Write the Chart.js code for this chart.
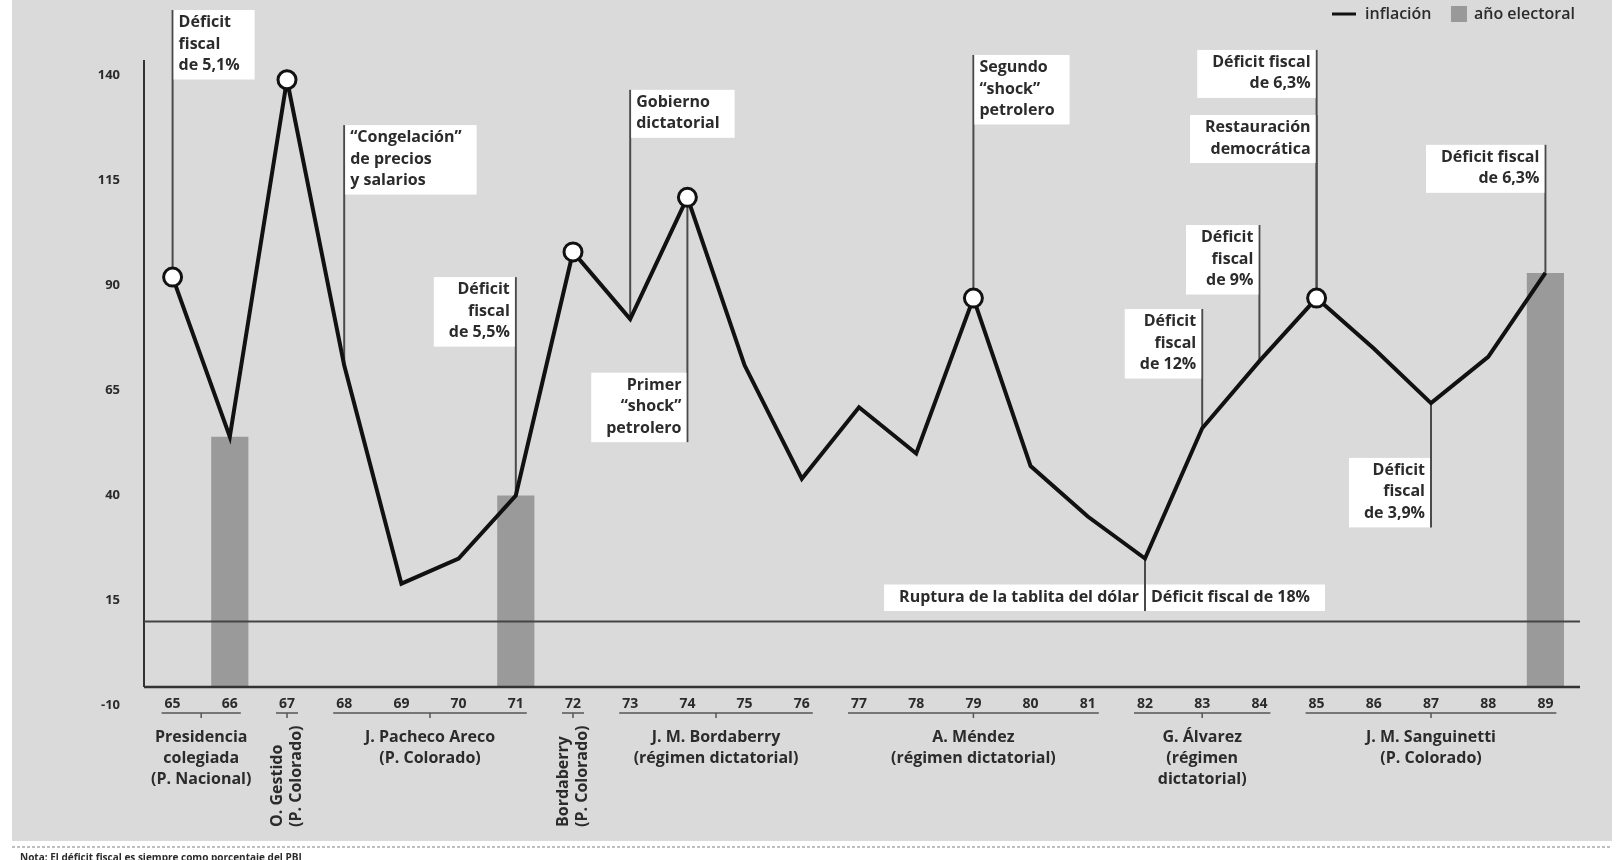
<!DOCTYPE html>
<html lang="es">
<head>
<meta charset="utf-8">
<title>Inflación y años electorales, Uruguay 1965-1989</title>
<script src="https://cdn.jsdelivr.net/npm/chart.js@4.4.1/dist/chart.umd.min.js"></script>
<style>
    html, body { margin: 0; padding: 0; background: #fff; }
    #wrap { width: 1624px; height: 860px; }
</style>
</head>
<body>
<div id="wrap"><canvas id="grafico" width="1624" height="860"></canvas></div>
<script>
"use strict";

// años del eje x
const years = ['65', '66', '67', '68', '69', '70', '71', '72', '73', '74', '75', '76', '77',
    '78', '79', '80', '81', '82', '83', '84', '85', '86', '87', '88', '89'];

// inflación anual (%)
const inflation = [92, 54, 139, 71, 19, 25, 40, 98, 82, 111, 71, 44, 61,
    50, 87, 47, 35, 25, 56, 72, 87, 75, 62, 73, 93];

// años electorales (barras grises)
const electoral = [null, 54, null, null, null, null, 40, null, null, null, null, null, null,
    null, null, null, null, null, null, null, null, null, null, null, 93];

// años marcados con círculo
const highlighted = ['65', '67', '72', '74', '79', '85'];

// marcas del eje y
const yTicks = [-10, 15, 40, 65, 90, 115, 140];
const referenceLine = 10;

const yMin = -5.6;
const yMax = 143.7;

// notas: año al que apuntan, texto, lado de la caja y su borde (en unidades del eje y)
const notes = [
    { year: '65', lines: ['Déficit', 'fiscal', 'de 5,1%'], side: 'right', top: 155.6 },
    { year: '68', lines: ['\u201cCongelación\u201d', 'de precios', 'y salarios'], side: 'right', top: 128.2 },
    { year: '71', lines: ['Déficit', 'fiscal', 'de 5,5%'], side: 'left', top: 92.0 },
    { year: '73', lines: ['Gobierno', 'dictatorial'], side: 'right', top: 136.6 },
    { year: '74', lines: ['Primer', '\u201cshock\u201d', 'petrolero'], side: 'left', bottom: 52.7 },
    { year: '79', lines: ['Segundo', '\u201cshock\u201d', 'petrolero'], side: 'right', top: 144.9 },
    { year: '82', lines: ['Ruptura de la tablita del dólar'], side: 'left', bottom: 12.5 },
    { year: '82', lines: ['Déficit fiscal de 18%'], side: 'right', bottom: 12.5 },
    { year: '83', lines: ['Déficit', 'fiscal', 'de 12%'], side: 'left', top: 84.4 },
    { year: '84', lines: ['Déficit', 'fiscal', 'de 9%'], side: 'left', top: 104.4 },
    { year: '85', lines: ['Déficit fiscal', 'de 6,3%'], side: 'left', top: 146.1 },
    { year: '85', lines: ['Restauración', 'democrática'], side: 'left', top: 130.6 },
    { year: '87', lines: ['Déficit', 'fiscal', 'de 3,9%'], side: 'left', bottom: 32.4 },
    { year: '89', lines: ['Déficit fiscal', 'de 6,3%'], side: 'left', top: 123.5 }
];

// gobiernos bajo el eje x
const groups = [
    { from: '65', to: '66', lines: ['Presidencia', 'colegiada', '(P. Nacional)'] },
    { from: '67', to: '67', lines: ['O. Gestido', '(P. Colorado)'], vertical: true },
    { from: '68', to: '71', lines: ['J. Pacheco Areco', '(P. Colorado)'] },
    { from: '72', to: '72', lines: ['Bordaberry', '(P. Colorado)'], vertical: true },
    { from: '73', to: '76', lines: ['J. M. Bordaberry', '(régimen dictatorial)'] },
    { from: '77', to: '81', lines: ['A. Méndez', '(régimen dictatorial)'] },
    { from: '82', to: '84', lines: ['G. Álvarez', '(régimen', 'dictatorial)'] },
    { from: '85', to: '89', lines: ['J. M. Sanguinetti', '(P. Colorado)'] }
];

const FONT = "'Open Sans', sans-serif";
const TEXT = '#2b2b2b';

// fondo gris, línea punteada y nota al pie
const panelPlugin = {
    id: 'panel',
    beforeDraw(chart) {
        const ctx = chart.ctx;
        ctx.save();
        ctx.fillStyle = '#fff';
        ctx.fillRect(0, 0, chart.width, chart.height);
        ctx.fillStyle = '#dadada';
        ctx.fillRect(12, 0, 1600, 841);
        ctx.strokeStyle = '#aaa';
        ctx.lineWidth = 1.5;
        ctx.setLineDash([3, 2]);
        ctx.beginPath();
        ctx.moveTo(12, 847);
        ctx.lineTo(1612, 847);
        ctx.stroke();
        ctx.setLineDash([]);
        ctx.fillStyle = TEXT;
        ctx.font = 'bold 10px ' + FONT;
        ctx.textBaseline = 'middle';
        ctx.fillText('Nota: El déficit fiscal es siempre como porcentaje del PBI', 20, 858);
        ctx.restore();
    }
};

// cajas blancas con sus líneas guía
const notesPlugin = {
    id: 'notes',
    beforeDatasetsDraw(chart) {
        const { ctx, scales: { x, y } } = chart;
        const lineH = 21.5;
        ctx.save();
        ctx.font = 'bold 16px ' + FONT;
        ctx.textBaseline = 'middle';
        notes.forEach(note => {
            const i = years.indexOf(note.year);
            const px = x.getPixelForValue(i);
            const py = y.getPixelForValue(inflation[i]);
            const h = (note.lines.length - 1) * lineH + 26.5;
            const w = Math.max(...note.lines.map(t => ctx.measureText(t).width)) + 20;
            const top = note.top !== undefined ? y.getPixelForValue(note.top) : y.getPixelForValue(note.bottom) - h;
            const left = note.side === 'right' ? px + 1 : px - w - 1;

            ctx.strokeStyle = '#4a4a4a';
            ctx.lineWidth = 2;
            ctx.beginPath();
            if (note.top !== undefined) {
                ctx.moveTo(px, top);
                ctx.lineTo(px, py);
            } else {
                ctx.moveTo(px, py);
                ctx.lineTo(px, top + h);
            }
            ctx.stroke();

            ctx.fillStyle = '#fff';
            ctx.fillRect(left, top, w, h);
            ctx.fillStyle = TEXT;
            ctx.textAlign = note.side === 'right' ? 'left' : 'right';
            const tx = note.side === 'right' ? px + 6 : px - 6;
            note.lines.forEach((t, k) => ctx.fillText(t, tx, top + 12.5 + k * lineH));
        });
        ctx.restore();
    }
};

// ejes dibujados a mano y línea horizontal de referencia
const axesPlugin = {
    id: 'axesLines',
    afterDatasetsDraw(chart) {
        const { ctx, chartArea, scales: { y } } = chart;
        const bottom = y.getPixelForValue(yMin);
        const ref = y.getPixelForValue(referenceLine);
        ctx.save();
        ctx.strokeStyle = '#333';
        ctx.lineWidth = 2;
        ctx.beginPath();
        ctx.moveTo(chartArea.left, chartArea.top);
        ctx.lineTo(chartArea.left, bottom);
        ctx.stroke();
        ctx.lineWidth = 2.5;
        ctx.beginPath();
        ctx.moveTo(chartArea.left, bottom);
        ctx.lineTo(chartArea.right + 6, bottom);
        ctx.stroke();
        ctx.strokeStyle = '#444';
        ctx.lineWidth = 2;
        ctx.beginPath();
        ctx.moveTo(chartArea.left, ref);
        ctx.lineTo(chartArea.right + 6, ref);
        ctx.stroke();
        ctx.restore();
    }
};

// nombres de los gobiernos y leyenda
const labelsPlugin = {
    id: 'groupLabels',
    afterDraw(chart) {
        const { ctx, scales: { x } } = chart;
        ctx.save();
        ctx.strokeStyle = '#555';
        ctx.lineWidth = 1.5;
        ctx.fillStyle = TEXT;
        ctx.font = 'bold 16px ' + FONT;
        ctx.textBaseline = 'middle';
        groups.forEach(g => {
            const x1 = x.getPixelForValue(years.indexOf(g.from));
            const x2 = x.getPixelForValue(years.indexOf(g.to));
            const cx = (x1 + x2) / 2;
            ctx.beginPath();
            ctx.moveTo(x1 - 11, 713);
            ctx.lineTo(x2 + 11, 713);
            ctx.moveTo(cx, 713);
            ctx.lineTo(cx, 718);
            ctx.stroke();
            if (g.vertical) {
                ctx.save();
                ctx.translate(cx, 827);
                ctx.rotate(-Math.PI / 2);
                ctx.textAlign = 'left';
                g.lines.forEach((t, k) => ctx.fillText(t, 0, (k - 0.5) * 19));
                ctx.restore();
            } else {
                ctx.textAlign = 'center';
                g.lines.forEach((t, k) => ctx.fillText(t, cx, 737 + k * 21));
            }
        });

        // leyenda
        ctx.strokeStyle = '#111';
        ctx.lineWidth = 3;
        ctx.beginPath();
        ctx.moveTo(1332, 14);
        ctx.lineTo(1356, 14);
        ctx.stroke();
        ctx.fillStyle = '#999';
        ctx.fillRect(1451, 6, 16, 16);
        ctx.fillStyle = TEXT;
        ctx.font = '600 16px ' + FONT;
        ctx.textAlign = 'left';
        ctx.fillText('inflación', 1365, 14);
        ctx.fillText('año electoral', 1474, 14);
        ctx.restore();
    }
};

const canvas = document.getElementById('grafico');

new Chart(canvas, {
    data: {
        labels: years,
        datasets: [{
            type: 'line',
            label: 'inflación',
            data: inflation,
            borderColor: '#111',
            borderWidth: 4,
            borderJoinStyle: 'miter',
            tension: 0,
            pointRadius: years.map(yr => highlighted.includes(yr) ? 9 : 0),
            pointBackgroundColor: '#fff',
            pointBorderColor: '#111',
            pointBorderWidth: 3,
            clip: false,
            order: 0
        }, {
            type: 'bar',
            label: 'año electoral',
            data: electoral,
            base: yMin,
            backgroundColor: '#9a9a9a',
            barPercentage: 0.65,
            categoryPercentage: 1,
            order: 1
        }]
    },
    options: {
        responsive: false,
        animation: false,
        devicePixelRatio: 1,
        layout: { padding: { top: 60, right: 50, left: 0, bottom: 0 } },
        plugins: {
            legend: { display: false },
            tooltip: { enabled: false }
        },
        scales: {
            x: {
                offset: true,
                grid: { display: false, drawTicks: false },
                border: { display: false },
                ticks: {
                    autoSkip: false,
                    maxRotation: 0,
                    padding: 9,
                    color: TEXT,
                    font: { family: FONT, size: 14, weight: 'bold' }
                },
                afterFit(scale) { scale.height = 173; }
            },
            y: {
                min: yMin,
                max: yMax,
                grid: { display: false, drawTicks: false },
                border: { display: false },
                ticks: {
                    padding: 24,
                    color: TEXT,
                    font: { family: FONT, size: 13, weight: 'bold' }
                },
                afterBuildTicks(scale) { scale.ticks = yTicks.map(v => ({ value: v })); },
                afterFit(scale) { scale.width = 144; }
            }
        }
    },
    plugins: [panelPlugin, notesPlugin, axesPlugin, labelsPlugin]
});
</script>
</body>
</html>
